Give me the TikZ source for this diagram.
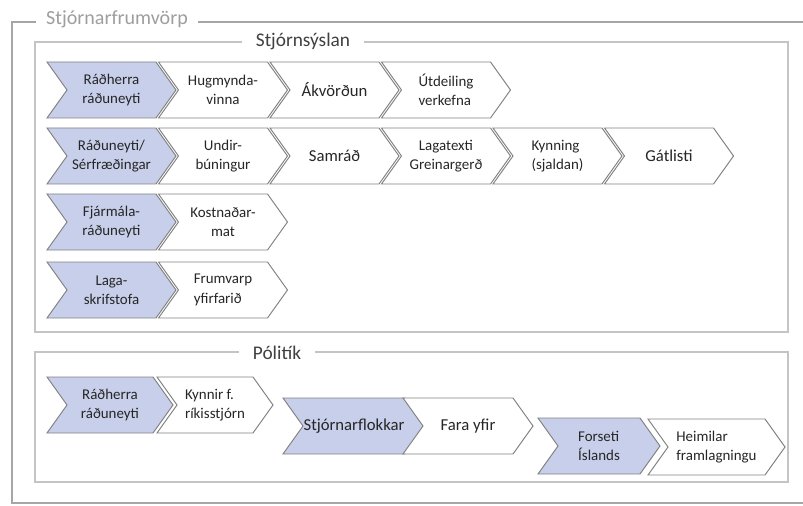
\documentclass[tikz,border=0pt]{standalone}
\usepackage{fontspec}
\setmainfont{Carlito}
\usetikzlibrary{positioning}
\definecolor{bluefill}{RGB}{200,207,234}
\definecolor{chevline}{RGB}{130,130,130}
\definecolor{grpline}{RGB}{196,196,196}
\definecolor{frameline}{RGB}{166,166,166}
\definecolor{chevink}{RGB}{38,38,38}
\tikzset{
bluechev/.style={draw=chevline, line width=0.55pt, fill=bluefill, line join=miter},
whitechev/.style={draw=chevline, line width=0.55pt, fill=white, line join=miter},
chevtext/.style={
  align=center,
  inner sep=0pt,
  text=chevink,
  font=\fontsize{8.5}{11}\selectfont
  },
chevbig/.style={font=\fontsize{9.5}{11}\selectfont},
grpbox/.style={draw=grpline, line width=1.1pt},
grptitle/.style={fill=white, inner xsep=8pt, inner ysep=1pt, text=black!75,
  font=\fontsize{11}{13}\selectfont},
frameline/.style={draw=frameline, line width=1.4pt},
frametitle/.style={fill=white, inner xsep=6pt, inner ysep=1pt, text=black!38,
  font=\fontsize{11.4}{13}\selectfont}
}
\newcommand{\chevbox}[7][]{%
  \draw[#6] (#3,#4) -- ++(#5-20,0) -- ++(20,28) -- ++(-20,28)
    -- ++(-#5+20,0) -- ++(20,-28) -- cycle;
  \node[chevtext,#1] (#2) at ({#3+#5/2},{#4+28}) {#7};
}

\begin{document}
\begin{tikzpicture}[x=0.02cm,y=-0.02cm]
\useasboundingbox (0,0) rectangle (803,506);

\draw[frameline] (803,22) -- (12,22) -- (12,503) -- (803,503);
\node[frametitle] (frame-title) at (117,19) {Stjórnarfrumvörp};

\begin{scope}
\draw[grpbox] (35,42) rectangle (788,332);
\node[grptitle] (stj-title) at (303,41) {Stjórnsýslan};
\end{scope}

\begin{scope}
\draw[grpbox] (35,352) rectangle (788,482);
\node[grptitle] (pol-title) at (277,353) {Pólitík};
\end{scope}

\chevbox{stj-1-1}{47}{62}{129}{bluechev}{Ráðherra\\ráðuneyti}
\chevbox{stj-1-2}{158.5}{62}{129}{whitechev}{Hugmynda-\\vinna}
\chevbox[chevbig]{stj-1-3}{270}{62}{129}{whitechev}{Ákvörðun}
\chevbox[align=left]{stj-1-4}{381.5}{62}{129}{whitechev}{Útdeiling\\verkefna}

\chevbox{stj-2-1}{47}{128}{129}{bluechev}{Ráðuneyti/\\Sérfræðingar}
\chevbox{stj-2-2}{158.5}{128}{129}{whitechev}{Undir-\\búningur}
\chevbox[chevbig]{stj-2-3}{270}{128}{129}{whitechev}{Samráð}
\chevbox{stj-2-4}{381.5}{128}{129}{whitechev}{Lagatexti\\Greinargerð}
\chevbox[align=left]{stj-2-5}{493}{128}{129}{whitechev}{Kynning\\(sjaldan)}
\chevbox[chevbig]{stj-2-6}{604.5}{128}{129}{whitechev}{Gátlisti}

\chevbox{stj-3-1}{47}{194}{129}{bluechev}{Fjármála-\\ráðuneyti}
\chevbox{stj-3-2}{158.5}{194}{129}{whitechev}{Kostnaðar-\\mat}

\chevbox{stj-4-1}{47}{262}{129}{bluechev}{Laga-\\skrifstofa}
\chevbox[align=left]{stj-4-2}{158.5}{262}{129}{whitechev}{Frumvarp\\yfirfarið}

\chevbox{pol-1}{47}{377}{126}{bluechev}{Ráðherra\\ráðuneyti}
\chevbox[align=left]{pol-2}{157}{377}{116}{whitechev}{Kynnir f.\\ríkisstjórn}
\chevbox[chevbig]{pol-3}{283}{398}{142}{bluechev}{Stjórnarflokkar}
\chevbox[chevbig]{pol-4}{403}{398}{130}{whitechev}{Fara yfir}
\chevbox[align=left]{pol-5}{538}{418}{122}{bluechev}{Forseti\\Íslands}
\chevbox[align=left]{pol-6}{648}{419}{137}{whitechev}{Heimilar\\framlagningu}

\end{tikzpicture}
\end{document}
